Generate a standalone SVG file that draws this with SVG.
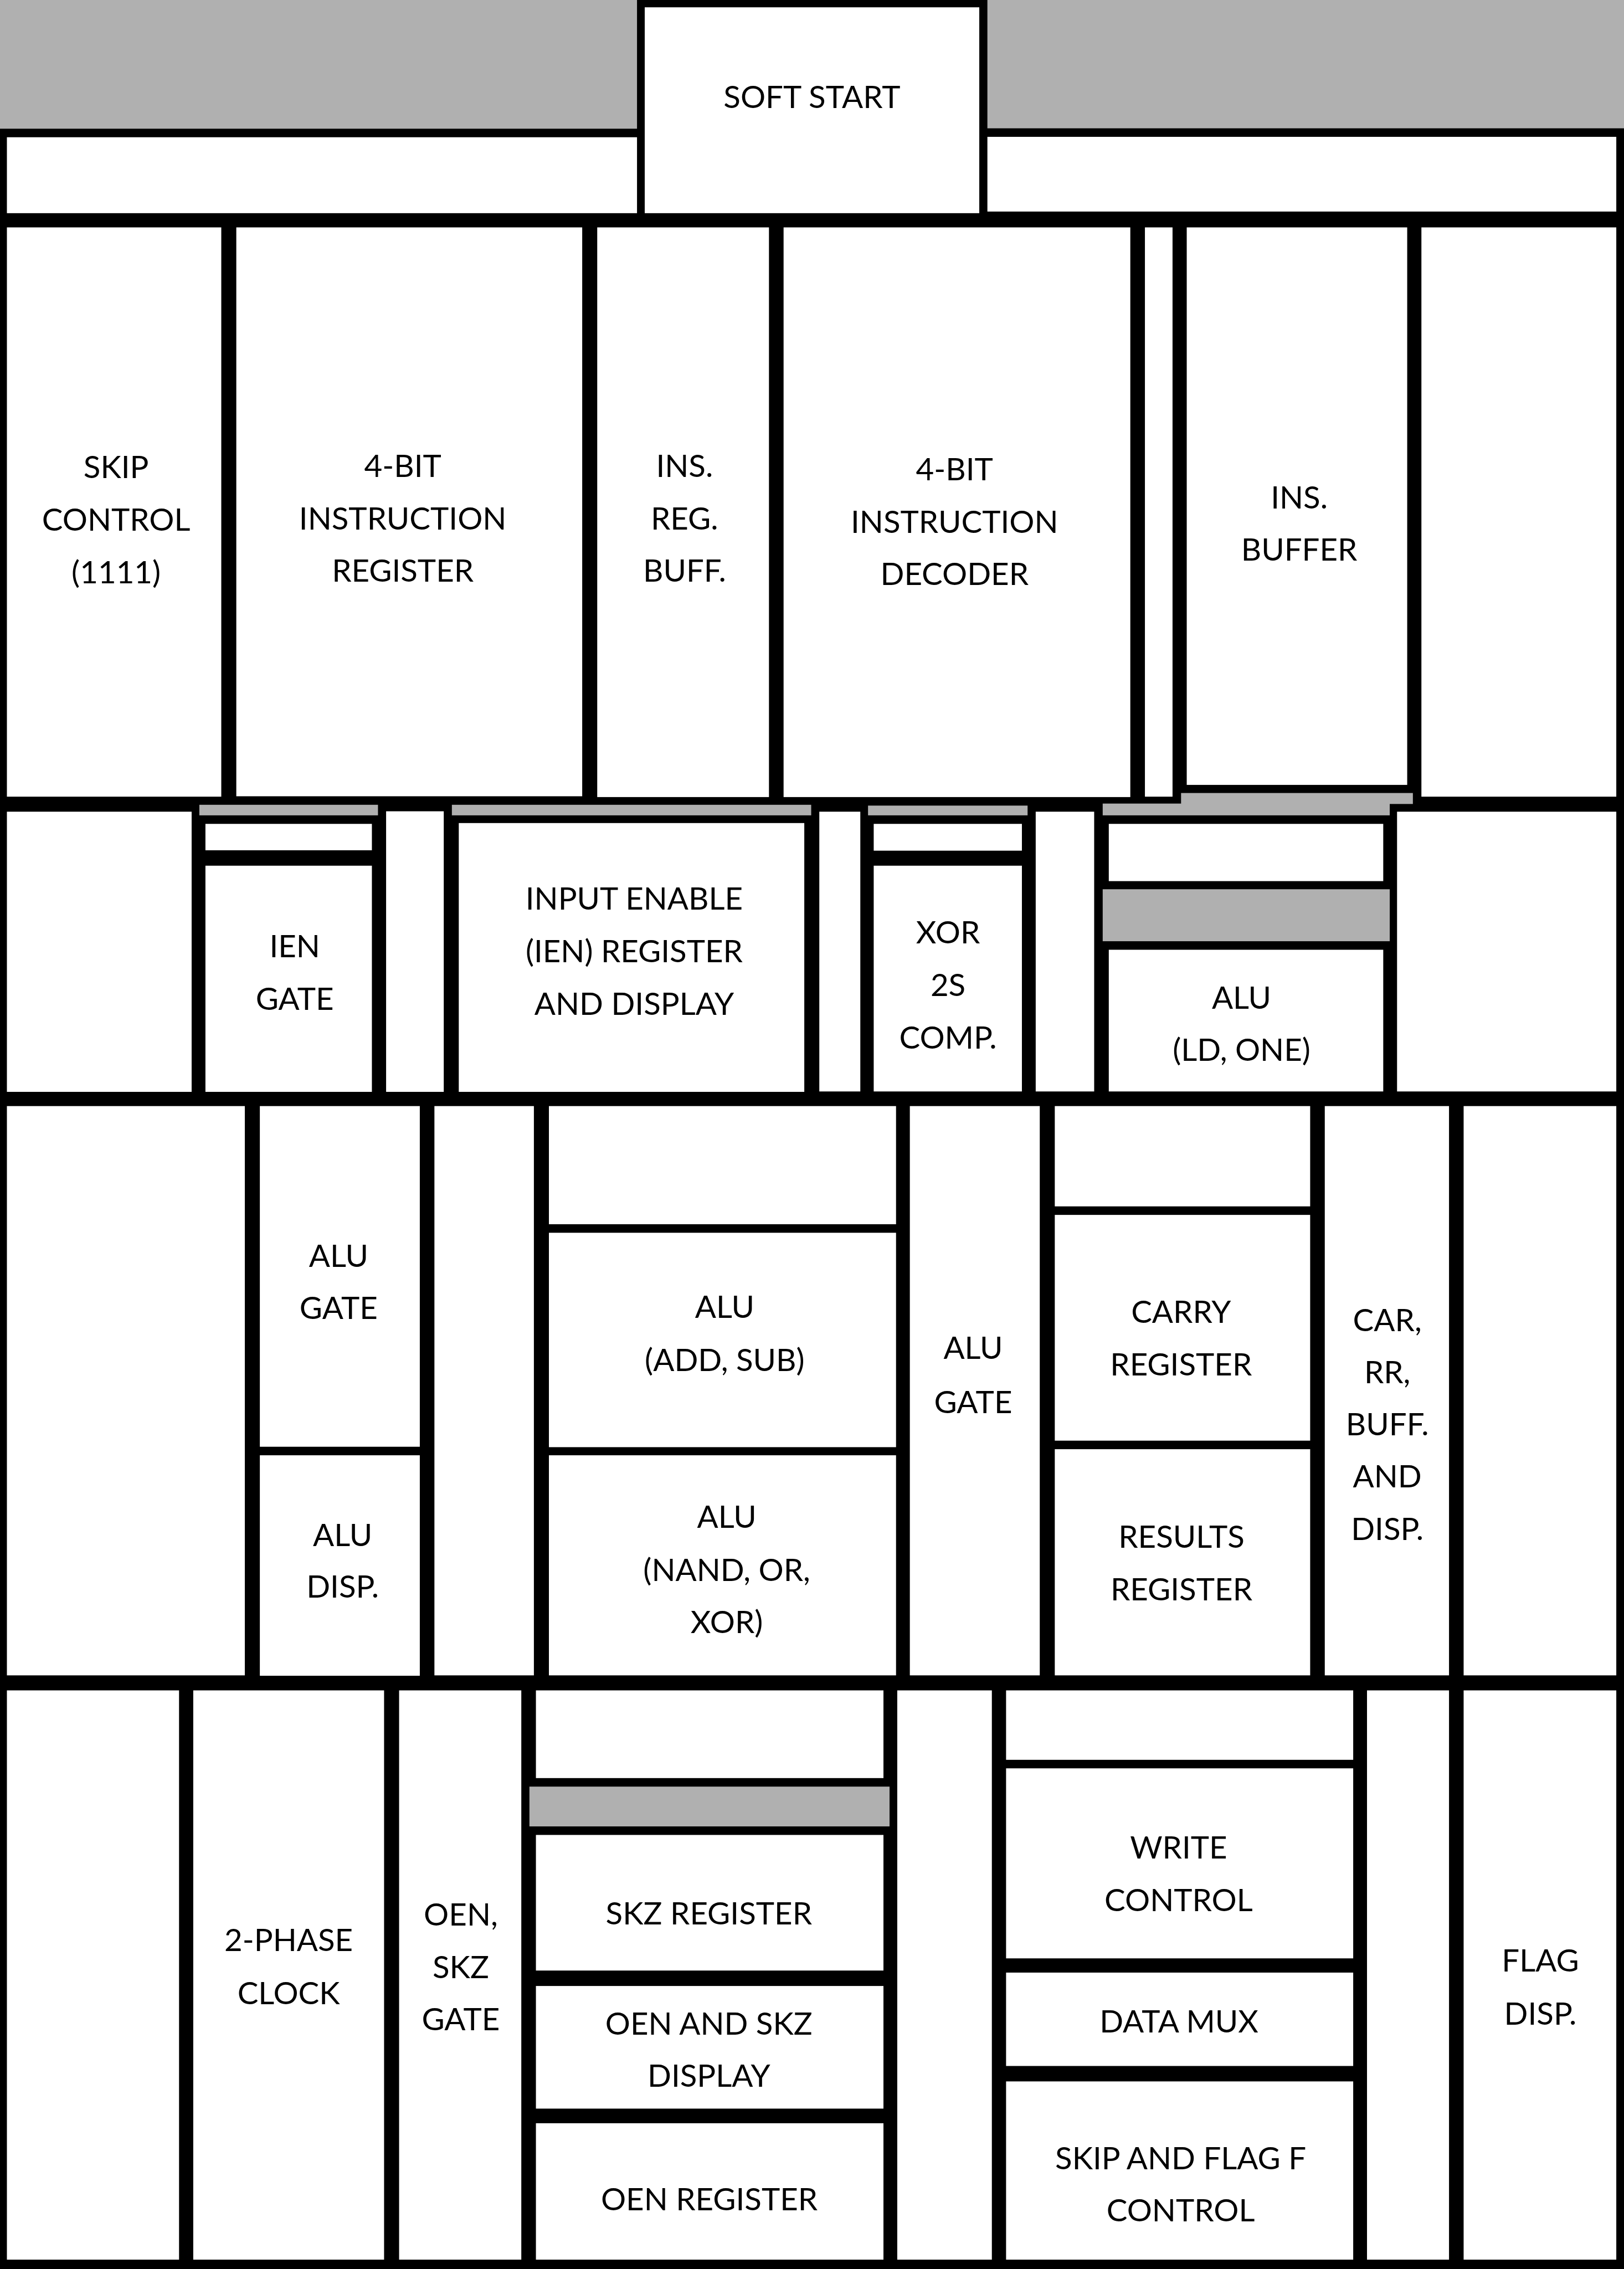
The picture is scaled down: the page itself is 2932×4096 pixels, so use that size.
<svg xmlns="http://www.w3.org/2000/svg" width="2932" height="4096" viewBox="0 0 2932 4096">
<style>
.w{fill:#ffffff}
.g{fill:#b0b0b0}
.t{font-family:Lato,"Liberation Sans",sans-serif;font-size:77px;fill:#000000;text-anchor:middle}
</style>
<g transform="scale(0.733)">
<rect id="frame" x="0" y="0" width="4000" height="5588" fill="#000000"/>
<g id="gray-bands">
<rect class="g" x="0" y="0" width="1569" height="317"/>
<rect class="g" x="2432" y="0" width="1568" height="316"/>
<rect class="g" x="491" y="1982" width="440" height="26"/>
<rect class="g" x="1113" y="1982" width="885" height="26"/>
<rect class="g" x="2138" y="1984" width="393" height="24"/>
<rect class="g" x="2716" y="1979" width="707" height="29"/>
<rect class="g" x="2909" y="1953" width="571" height="27"/>
<rect class="g" x="2716" y="2190" width="707" height="128"/>
<rect class="g" x="1304" y="4400" width="887" height="98"/>
</g>
<!-- top -->
<g id="top-left"><rect class="w" x="17" y="338" width="1552" height="187"/></g>
<g id="top-right"><rect class="w" x="2432" y="337" width="1549" height="184"/></g>
<g id="soft-start"><rect class="w" x="1588" y="18" width="824" height="507"/><text class="t" x="2000" y="266">SOFT START</text></g>
<!-- row 1 -->
<g id="skip-control"><rect class="w" x="17" y="560" width="528" height="1402"/>
<text class="t" x="286" y="1178">SKIP</text><text class="t" x="286" y="1307">CONTROL</text><text class="t" x="286" y="1437">(1111)</text></g>
<g id="instruction-register"><rect class="w" x="582" y="560" width="852" height="1401"/>
<text class="t" x="992" y="1175">4-BIT</text><text class="t" x="992" y="1304">INSTRUCTION</text><text class="t" x="992" y="1433">REGISTER</text></g>
<g id="ins-reg-buff"><rect class="w" x="1471" y="560" width="423" height="1403"/>
<text class="t" x="1686" y="1175">INS.</text><text class="t" x="1686" y="1304">REG.</text><text class="t" x="1686" y="1433">BUFF.</text></g>
<g id="instruction-decoder"><rect class="w" x="1930" y="560" width="854" height="1403"/>
<text class="t" x="2351" y="1183">4-BIT</text><text class="t" x="2351" y="1312">INSTRUCTION</text><text class="t" x="2351" y="1441">DECODER</text></g>
<g id="row1-narrow"><rect class="w" x="2820" y="560" width="68" height="1402"/></g>
<g id="ins-buffer"><rect class="w" x="2923" y="560" width="543" height="1373"/>
<text class="t" x="3200" y="1252">INS.</text><text class="t" x="3200" y="1381">BUFFER</text></g>
<g id="row1-right"><rect class="w" x="3501" y="560" width="480" height="1402"/></g>
<!-- row 2 -->
<g id="row2-left"><rect class="w" x="17" y="1999" width="455" height="690"/></g>
<g id="ien-gate"><rect class="w" x="506" y="2029" width="410" height="65"/><rect class="w" x="506" y="2132" width="410" height="557"/>
<text class="t" x="726" y="2358">IEN</text><text class="t" x="726" y="2487">GATE</text></g>
<g id="row2-col1"><rect class="w" x="951" y="1998" width="142" height="691"/></g>
<g id="ien-register"><rect class="w" x="1130" y="2027" width="851" height="662"/>
<text class="t" x="1562" y="2240">INPUT ENABLE</text><text class="t" x="1562" y="2370">(IEN) REGISTER</text><text class="t" x="1562" y="2499">AND DISPLAY</text></g>
<g id="row2-col2"><rect class="w" x="2018" y="1999" width="101" height="689"/></g>
<g id="xor-2s-comp"><rect class="w" x="2152" y="2029" width="365" height="66"/><rect class="w" x="2152" y="2132" width="365" height="556"/>
<text class="t" x="2335" y="2324">XOR</text><text class="t" x="2335" y="2453">2S</text><text class="t" x="2335" y="2582">COMP.</text></g>
<g id="row2-col3"><rect class="w" x="2551" y="1999" width="144" height="689"/></g>
<g id="alu-ld-one"><rect class="w" x="2731" y="2029" width="676" height="141"/><rect class="w" x="2731" y="2339" width="676" height="349"/>
<text class="t" x="3058" y="2484">ALU</text><text class="t" x="3058" y="2613">(LD, ONE)</text></g>
<g id="row2-right"><rect class="w" x="3441" y="1999" width="540" height="689"/></g>
<!-- row 3 -->
<g id="row3-left"><rect class="w" x="17" y="2724" width="586" height="1402"/></g>
<g id="alu-gate-1"><rect class="w" x="640" y="2724" width="394" height="839"/>
<text class="t" x="834" y="3120">ALU</text><text class="t" x="834" y="3248">GATE</text></g>
<g id="alu-disp"><rect class="w" x="640" y="3584" width="394" height="543"/>
<text class="t" x="844" y="3807">ALU</text><text class="t" x="844" y="3935">DISP.</text></g>
<g id="row3-col1"><rect class="w" x="1070" y="2724" width="245" height="1402"/></g>
<g id="alu-top-blank"><rect class="w" x="1352" y="2724" width="855" height="291"/></g>
<g id="alu-add-sub"><rect class="w" x="1352" y="3036" width="855" height="528"/>
<text class="t" x="1785" y="3246">ALU</text><text class="t" x="1785" y="3377">(ADD, SUB)</text></g>
<g id="alu-nand-or-xor"><rect class="w" x="1352" y="3584" width="855" height="542"/>
<text class="t" x="1790" y="3762">ALU</text><text class="t" x="1790" y="3893">(NAND, OR,</text><text class="t" x="1790" y="4022">XOR)</text></g>
<g id="alu-gate-2"><rect class="w" x="2241" y="2724" width="320" height="1402"/>
<text class="t" x="2397" y="3347">ALU</text><text class="t" x="2397" y="3480">GATE</text></g>
<g id="carry-top-blank"><rect class="w" x="2598" y="2724" width="629" height="247"/></g>
<g id="carry-register"><rect class="w" x="2598" y="2992" width="629" height="556"/>
<text class="t" x="2909" y="3258">CARRY</text><text class="t" x="2909" y="3387">REGISTER</text></g>
<g id="results-register"><rect class="w" x="2598" y="3569" width="629" height="557"/>
<text class="t" x="2910" y="3812">RESULTS</text><text class="t" x="2910" y="3942">REGISTER</text></g>
<g id="car-rr-buff"><rect class="w" x="3263" y="2724" width="306" height="1402"/>
<text class="t" x="3417" y="3278">CAR,</text><text class="t" x="3417" y="3406">RR,</text><text class="t" x="3417" y="3535">BUFF.</text><text class="t" x="3417" y="3663">AND</text><text class="t" x="3417" y="3792">DISP.</text></g>
<g id="row3-right"><rect class="w" x="3605" y="2724" width="376" height="1402"/></g>
<!-- row 4 -->
<g id="row4-left"><rect class="w" x="17" y="4163" width="424" height="1402"/></g>
<g id="two-phase-clock"><rect class="w" x="476" y="4163" width="470" height="1402"/>
<text class="t" x="711" y="4805">2-PHASE</text><text class="t" x="711" y="4936">CLOCK</text></g>
<g id="oen-skz-gate"><rect class="w" x="983" y="4163" width="301" height="1402"/>
<text class="t" x="1135" y="4742">OEN,</text><text class="t" x="1135" y="4872">SKZ</text><text class="t" x="1135" y="5000">GATE</text></g>
<g id="skz-top-blank"><rect class="w" x="1320" y="4163" width="856" height="216"/></g>
<g id="skz-register"><rect class="w" x="1320" y="4519" width="856" height="334"/>
<text class="t" x="1746" y="4740">SKZ REGISTER</text></g>
<g id="oen-skz-display"><rect class="w" x="1320" y="4891" width="856" height="302"/>
<text class="t" x="1746" y="5011">OEN AND SKZ</text><text class="t" x="1746" y="5139">DISPLAY</text></g>
<g id="oen-register"><rect class="w" x="1320" y="5229" width="856" height="336"/>
<text class="t" x="1747" y="5443">OEN REGISTER</text></g>
<g id="row4-col1"><rect class="w" x="2210" y="4163" width="233" height="1402"/></g>
<g id="write-top-blank"><rect class="w" x="2478" y="4163" width="855" height="171"/></g>
<g id="write-control"><rect class="w" x="2478" y="4355" width="855" height="468"/>
<text class="t" x="2903" y="4577">WRITE</text><text class="t" x="2903" y="4707">CONTROL</text></g>
<g id="data-mux"><rect class="w" x="2478" y="4858" width="855" height="230"/>
<text class="t" x="2904" y="5006">DATA MUX</text></g>
<g id="skip-flag-control"><rect class="w" x="2478" y="5126" width="855" height="439"/>
<text class="t" x="2908" y="5342">SKIP AND FLAG F</text><text class="t" x="2908" y="5470">CONTROL</text></g>
<g id="row4-col2"><rect class="w" x="3367" y="4163" width="202" height="1402"/></g>
<g id="flag-disp"><rect class="w" x="3605" y="4163" width="376" height="1402"/>
<text class="t" x="3794" y="4856">FLAG</text><text class="t" x="3794" y="4987">DISP.</text></g>
</g>
</svg>
